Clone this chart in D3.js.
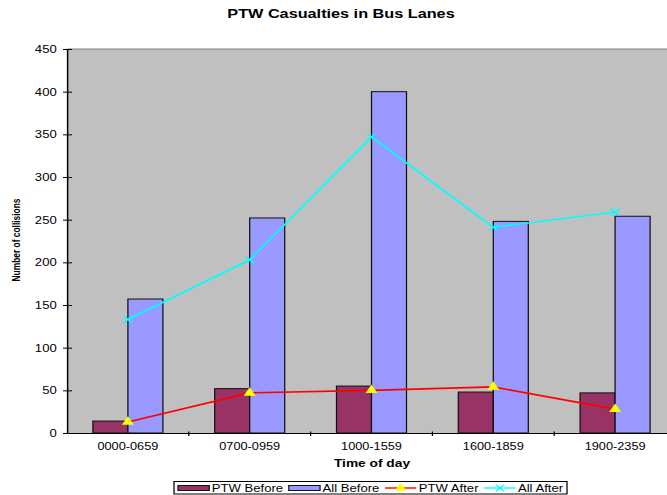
<!DOCTYPE html>
<html lang="en">
<head>
    <meta charset="UTF-8">
    <title>PTW Casualties in Bus Lanes</title>
    <style>
        body{ margin:0; background:#fff; }
        svg{ display:block; }
        text{ font-family: "Liberation Sans", Arial, Helvetica, sans-serif; fill:#000; }
        .axis text{ font-size:10.5px; }
        .axis path{ stroke:#000; }
        .axis line{ stroke:#000; }
        .xlab text{ font-size:10.2px; }
    </style>
    <script src="https://cdn.jsdelivr.net/npm/d3@7"></script>
</head>
<body>
<div id="container"></div>
<script type="text/javascript">
    const categories = ["0000-0659","0700-0959","1000-1559","1600-1859","1900-2359"];
    const ptwBefore  = [14, 52, 55, 48, 47];
    const allBefore  = [157, 252, 400, 248, 254];
    const ptwAfter   = [13, 47, 50, 54, 28];
    const allAfter   = [133, 203, 347, 241, 259];
    const yTicks     = [0, 50, 100, 150, 200, 250, 300, 350, 400, 450];
    const barSeries  = ["PTW Before", "All Before"];

    // the original picture is stretched sideways, so draw in a narrower box and stretch it
    const stretch = 1.25;
    const width = 667, height = 495;
    const vw = width / stretch;
    const margin = {top:49, left:67/stretch, right:676/stretch, bottom:433};

    const svg = d3.select("#container")
        .append("svg")
        .attr("width", width)
        .attr("height", height)
        .attr("viewBox", `0 0 ${vw} ${height}`)
        .attr("preserveAspectRatio", "none");

    const x0 = d3.scaleBand().domain(categories).range([margin.left, margin.right]).padding(0);
    const x1 = d3.scaleBand().domain(barSeries).range([0, x0.bandwidth()]).paddingInner(0).paddingOuter(0.74);
    const y = d3.scaleLinear().domain([0, 450]).range([margin.bottom, margin.top]);

    // plot area
    svg.append("rect")
        .attr("x", margin.left).attr("y", margin.top)
        .attr("width", margin.right - margin.left)
        .attr("height", margin.bottom - margin.top)
        .attr("fill", "#c0c0c0");
    svg.append("line")
        .attr("x1", margin.left).attr("x2", margin.right)
        .attr("y1", margin.top).attr("y2", margin.top)
        .attr("stroke", "#808080");

    // bars
    const rows = categories.map((c, i) => ({cat:c, vals:[ptwBefore[i], allBefore[i]]}));
    const barColors = {"PTW Before":"#993366", "All Before":"#9999ff"};
    const groups = svg.append("g").selectAll("g")
        .data(rows).enter().append("g")
        .attr("transform", d => `translate(${x0(d.cat)},0)`);
    groups.selectAll("rect")
        .data(d => barSeries.map((s, j) => ({s:s, v:d.vals[j]})))
        .enter().append("rect")
        .attr("x", d => x1(d.s))
        .attr("width", x1.bandwidth())
        .attr("y", d => y(d.v))
        .attr("height", d => y(0) - y(d.v))
        .attr("fill", d => barColors[d.s])
        .attr("stroke", "#111")
        .attr("stroke-width", 1);

    // y axis
    const yAxis = d3.axisLeft(y).tickValues(yTicks).tickSizeOuter(0).tickSize(3.2).tickPadding(5);
    const gy = svg.append("g").attr("class", "axis")
        .attr("transform", `translate(${margin.left},0)`)
        .call(yAxis);
    gy.selectAll(".tick line").attr("x1", -3.2).attr("x2", 4);
    gy.select(".domain").attr("stroke-width", 1.2);

    // x axis: labels at the centres, ticks between the categories
    const xAxis = d3.axisBottom(x0).tickSize(0).tickPadding(10);
    const gx = svg.append("g").attr("class", "axis xlab")
        .attr("transform", `translate(0,${margin.bottom})`)
        .call(xAxis);
    gx.select(".domain").attr("stroke-width", 1.2);
    gx.selectAll(".tick text").attr("dy", "0.71em");
    svg.append("g").selectAll("line")
        .data(categories.slice(1))
        .enter().append("line")
        .attr("x1", d => x0(d)).attr("x2", d => x0(d))
        .attr("y1", margin.bottom - 1.5).attr("y2", margin.bottom + 3)
        .attr("stroke", "#000");

    // lines
    const cx = c => x0(c) + x0.bandwidth() / 2;
    const lineGen = d3.line().x(d => cx(d.cat)).y(d => y(d.v));
    const ptwAfterData = categories.map((c, i) => ({cat:c, v:ptwAfter[i]}));
    const allAfterData = categories.map((c, i) => ({cat:c, v:allAfter[i]}));

    svg.append("path").datum(allAfterData)
        .attr("d", lineGen).attr("fill", "none")
        .attr("stroke", "#00ffff").attr("stroke-width", 1.6);
    svg.append("g").selectAll("path")
        .data(allAfterData).enter().append("path")
        .attr("d", d3.symbol(d3.symbolTimes, 34))
        .attr("transform", d => `translate(${cx(d.cat)},${y(d.v)})`)
        .attr("fill", "none").attr("stroke", "#00ffff").attr("stroke-width", 1.2);

    svg.append("path").datum(ptwAfterData)
        .attr("d", lineGen).attr("fill", "none")
        .attr("stroke", "#ff0000").attr("stroke-width", 1.6);
    svg.append("g").selectAll("path")
        .data(ptwAfterData).enter().append("path")
        .attr("d", d3.symbol(d3.symbolTriangle, 40))
        .attr("transform", d => `translate(${cx(d.cat)},${y(d.v)})`)
        .attr("fill", "#ffff00");

    // titles
    svg.append("text")
        .attr("x", 341 / stretch).attr("y", 18.5)
        .attr("text-anchor", "middle")
        .style("font-size", "13px").style("font-weight", "bold")
        .text("PTW Casualties in Bus Lanes");
    svg.append("text")
        .attr("x", 372 / stretch).attr("y", 467)
        .attr("text-anchor", "middle")
        .style("font-size", "11px").style("font-weight", "bold")
        .text("Time of day");
    svg.append("text")
        .attr("transform", `translate(${20 / stretch},240) rotate(-90)`)
        .attr("text-anchor", "middle")
        .style("font-size", "8.4px").style("font-weight", "bold")
        .text("Number of collisions");

    // legend
    const legend = svg.append("g");
    legend.append("rect")
        .attr("x", 174 / stretch).attr("y", 481.5)
        .attr("width", (567 - 174) / stretch).attr("height", 12.5)
        .attr("fill", "#fff").attr("stroke", "#000").attr("stroke-width", 1);
    const items = [
        {name:"PTW Before", kind:"bar"},
        {name:"All Before", kind:"bar"},
        {name:"PTW After", kind:"line", color:"#ff0000"},
        {name:"All After", kind:"line", color:"#00ffff"}
    ];
    let lx = 178 / stretch;
    const ly = 488;
    items.forEach(it => {
        const sw = 25;
        if (it.kind === "bar") {
            legend.append("rect")
                .attr("x", lx).attr("y", ly - 2.5)
                .attr("width", sw).attr("height", 5)
                .attr("fill", barColors[it.name]).attr("stroke", "#111");
        } else {
            legend.append("line")
                .attr("x1", lx).attr("x2", lx + sw)
                .attr("y1", ly).attr("y2", ly)
                .attr("stroke", it.color).attr("stroke-width", 1.4);
            legend.append("path")
                .attr("d", it.name === "PTW After" ? d3.symbol(d3.symbolTriangle, 36)() : d3.symbol(d3.symbolTimes, 30)())
                .attr("transform", `translate(${lx + sw / 2},${ly})`)
                .attr("fill", it.name === "PTW After" ? "#ffff00" : "none")
                .attr("stroke", it.name === "PTW After" ? "none" : "#00ffff");
        }
        const t = legend.append("text")
            .attr("x", lx + sw + 2).attr("y", ly + 3.8)
            .style("font-size", "10.5px")
            .text(it.name);
        lx = lx + sw + 2 + t.node().getComputedTextLength() + 4.5;
    });
</script>
</body>
</html>
